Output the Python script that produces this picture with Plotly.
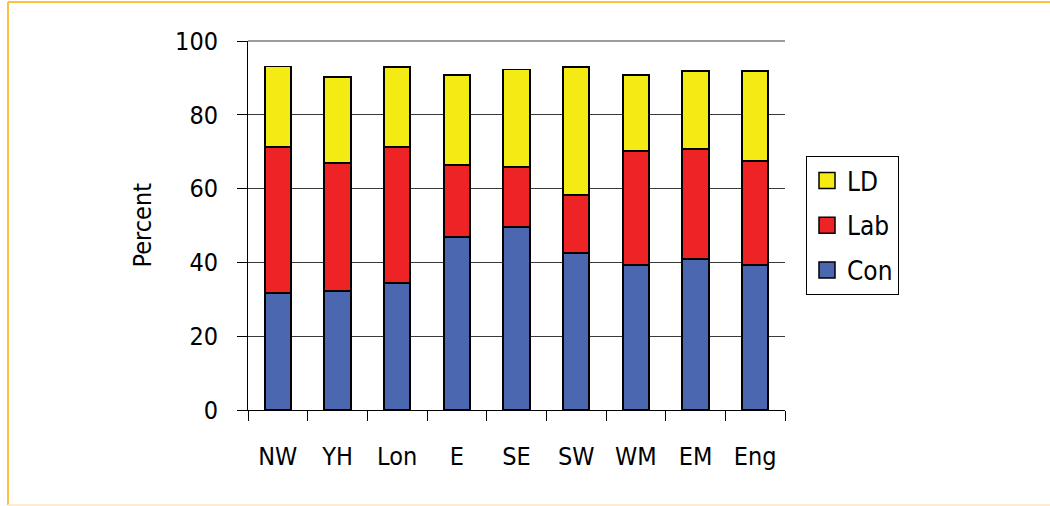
import plotly.graph_objects as go

regions = ["NW", "YH", "Lon", "E", "SE", "SW", "WM", "EM", "Eng"]
con = [31.8, 32.3, 34.5, 46.9, 49.6, 42.6, 39.3, 40.9, 39.3]
lab = [39.5, 34.7, 36.8, 19.5, 16.3, 15.7, 30.9, 29.9, 28.2]
ld = [21.8, 23.3, 21.7, 24.4, 26.4, 34.7, 20.6, 21.1, 24.4]
y_ticks = [0, 20, 40, 60, 80, 100]

colors = {"Con": "#4B67B0", "Lab": "#EE2326", "LD": "#F5EB14"}
FONT = "DejaVu Sans Condensed, Open Sans, sans-serif"

fig = go.Figure()
for name, vals in [("Con", con), ("Lab", lab), ("LD", ld)]:
    fig.add_trace(go.Bar(
        x=regions, y=vals, name=name, showlegend=False,
        marker=dict(color=colors[name], line=dict(color="black", width=1.8)),
    ))
for i, name in enumerate(["LD", "Lab", "Con"]):
    fig.add_trace(go.Scatter(
        x=[None], y=[None], mode="markers", name=name, legendgroup=name,
        legendrank=i,
        marker=dict(symbol="square", size=18, color=colors[name],
                    line=dict(color="black", width=1.5)),
    ))

L, R, T, B = 248, 785, 41, 410
W, H = 1050, 506
def px(x):
    return (x - L) / (R - L)
def py(y):
    return (B - y) / (B - T)

fig.update_layout(
    width=W, height=H,
    margin=dict(l=L, r=W - R, t=T, b=H - B, pad=0),
    barmode="stack", bargap=0.56,
    paper_bgcolor="white", plot_bgcolor="white",
    font=dict(family=FONT, size=25, color="black"),
    showlegend=True,
    legend=dict(
        x=px(806), y=py(156), xanchor="left", yanchor="top",
        bordercolor="black", borderwidth=1, bgcolor="white",
        font=dict(size=26), tracegroupgap=8, traceorder="grouped",
        itemsizing="trace",
    ),
    xaxis=dict(
        showline=True, linecolor="black", linewidth=1,
        ticks="outside", tickson="boundaries", ticklen=10, tickcolor="black",
        ticklabelstandoff=24, showgrid=False,
        tickfont=dict(size=25),
    ),
    yaxis=dict(
        range=[0, 100], tickvals=y_ticks, showline=True, linecolor="black",
        linewidth=1, ticks="outside", ticklen=10, tickcolor="black",
        showgrid=True, gridcolor="#3a3a3a", gridwidth=1,
        ticklabelstandoff=14, zeroline=False,
        tickfont=dict(size=25),
    ),
    annotations=[dict(
        text="Percent", textangle=-90, x=px(142), y=0.5,
        xref="paper", yref="paper", showarrow=False,
        xanchor="center", yanchor="middle", font=dict(size=25),
    )],
    shapes=[
        dict(type="line", xref="paper", yref="paper",
             x0=px(8), x1=px(1060), y0=py(2), y1=py(2),
             line=dict(color="#FFC040", width=2)),
        dict(type="line", xref="paper", yref="paper",
             x0=px(8), x1=px(8), y0=py(2), y1=py(505),
             line=dict(color="#FFC040", width=2)),
        dict(type="line", xref="paper", yref="paper",
             x0=px(8), x1=px(1060), y0=py(505), y1=py(505),
             line=dict(color="#FFE6BE", width=1.5)),
        dict(type="line", xref="paper", yref="paper",
             x0=0, x1=1, y0=1, y1=1,
             line=dict(color="#3a3a3a", width=1)),
    ],
)

fig.write_html("out.html", config={"displayModeBar": False},
               post_script="document.body.style.margin='0';")
